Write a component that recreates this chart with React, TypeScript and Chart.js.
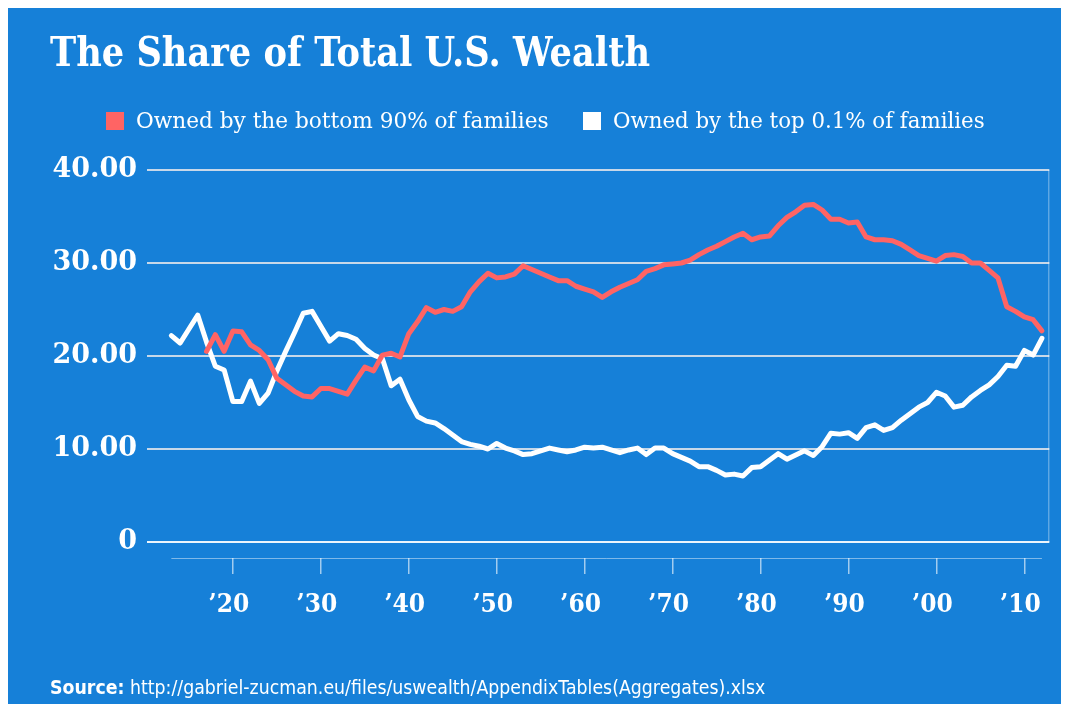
import React, { useEffect, useLayoutEffect, useRef, useState } from "react";
import { Chart, registerables } from "chart.js";

Chart.register(...registerables);

const YEARS = [
  1913, 1914, 1915, 1916, 1917, 1918, 1919, 1920, 1921, 1922,
  1923, 1924, 1925, 1926, 1927, 1928, 1929, 1930, 1931, 1932,
  1933, 1934, 1935, 1936, 1937, 1938, 1939, 1940, 1941, 1942,
  1943, 1944, 1945, 1946, 1947, 1948, 1949, 1950, 1951, 1952,
  1953, 1954, 1955, 1956, 1957, 1958, 1959, 1960, 1961, 1962,
  1963, 1964, 1965, 1966, 1967, 1968, 1969, 1970, 1971, 1972,
  1973, 1974, 1975, 1976, 1977, 1978, 1979, 1980, 1981, 1982,
  1983, 1984, 1985, 1986, 1987, 1988, 1989, 1990, 1991, 1992,
  1993, 1994, 1995, 1996, 1997, 1998, 1999, 2000, 2001, 2002,
  2003, 2004, 2005, 2006, 2007, 2008, 2009, 2010, 2011, 2012,
];

const BOTTOM_90 = [
  null, null, null, null, 20.5, 22.3, 20.5, 22.7, 22.6, 21.2,
  20.6, 19.6, 17.6, 16.9, 16.2, 15.7, 15.6, 16.5, 16.5, 16.2,
  15.9, 17.4, 18.8, 18.4, 20.1, 20.3, 19.9, 22.4, 23.7, 25.2,
  24.7, 25.0, 24.8, 25.3, 26.9, 28.0, 28.9, 28.4, 28.5, 28.8,
  29.7, 29.3, 28.9, 28.5, 28.1, 28.1, 27.5, 27.2, 26.9, 26.3,
  26.9, 27.4, 27.8, 28.2, 29.1, 29.4, 29.8, 29.9, 30.0, 30.3,
  30.9, 31.4, 31.8, 32.3, 32.8, 33.2, 32.5, 32.8, 32.9, 34.0,
  34.9, 35.5, 36.2, 36.3, 35.7, 34.7, 34.7, 34.3, 34.4, 32.8,
  32.5, 32.5, 32.4, 32.0, 31.4, 30.8, 30.5, 30.2, 30.8, 30.9,
  30.7, 30.0, 30.0, 29.2, 28.4, 25.3, 24.8, 24.2, 23.9, 22.7,
];

const TOP_0_1 = [
  22.2, 21.4, 22.9, 24.4, 21.5, 18.9, 18.5, 15.1, 15.1, 17.3,
  14.9, 16.0, 18.4, 20.5, 22.5, 24.6, 24.8, 23.2, 21.6, 22.4,
  22.2, 21.8, 20.8, 20.1, 19.7, 16.8, 17.5, 15.3, 13.5, 13.0,
  12.8, 12.2, 11.5, 10.8, 10.5, 10.3, 10.0, 10.6, 10.1, 9.8,
  9.4, 9.5, 9.8, 10.1, 9.9, 9.7, 9.9, 10.2, 10.1, 10.2,
  9.9, 9.6, 9.9, 10.1, 9.4, 10.1, 10.1, 9.5, 9.1, 8.7,
  8.1, 8.1, 7.7, 7.2, 7.3, 7.1, 8.0, 8.1, 8.8, 9.5,
  8.9, 9.35, 9.8, 9.3, 10.25, 11.7, 11.6, 11.75, 11.15, 12.3,
  12.6, 12.0, 12.3, 13.1, 13.8, 14.5, 15.0, 16.1, 15.7, 14.5,
  14.7, 15.6, 16.3, 16.9, 17.8, 19.0, 18.9, 20.6, 20.1, 21.9,
];

const Y_TICKS = [0, 10, 20, 30, 40];
const X_TICKS = [1920, 1930, 1940, 1950, 1960, 1970, 1980, 1990, 2000, 2010];
const X_TICK_LABELS = ["’20", "’30", "’40", "’50", "’60", "’70", "’80", "’90", "’00", "’10"];
const SERIES_LABELS = [
  "Owned by the bottom 90% of families",
  "Owned by the top 0.1% of families",
];
const TITLE = "The Share of Total U.S. Wealth";
const SOURCE_LABEL = "Source:";
const SOURCE_URL = " http://gabriel-zucman.eu/files/uswealth/AppendixTables(Aggregates).xlsx";

const BLUE = "#1680d8";
const RED = "#ff6464";
const WHITE = "#ffffff";

function FitText({ width, style, children }: any) {
  const ref = useRef<HTMLSpanElement>(null);
  const [s, setS] = useState(1);
  useLayoutEffect(() => {
    if (ref.current) {
      const w = ref.current.offsetWidth;
      if (w > 0) setS(width / w);
    }
  }, [width]);
  return (
    <span
      ref={ref}
      style={{
        display: "inline-block",
        whiteSpace: "nowrap",
        transformOrigin: "left top",
        transform: `scaleX(${s})`,
        ...style,
      }}
    >
      {children}
    </span>
  );
}

const axisDecor = {
  id: "axisDecor",
  beforeDatasetsDraw(chart: any) {
    const { ctx, chartArea, scales } = chart;
    const x = scales.x;
    const y = scales.y;
    ctx.save();
    ctx.strokeStyle = "rgba(255,255,255,0.45)";
    ctx.lineWidth = 1;
    ctx.beginPath();
    ctx.moveTo(x.getPixelForValue(YEARS[0]), chartArea.bottom + 0.5);
    ctx.lineTo(x.getPixelForValue(YEARS[YEARS.length - 1]), chartArea.bottom + 0.5);
    ctx.stroke();
    ctx.beginPath();
    ctx.moveTo(chartArea.right - 0.5, y.getPixelForValue(Y_TICKS[Y_TICKS.length - 1]));
    ctx.lineTo(chartArea.right - 0.5, y.getPixelForValue(0));
    ctx.stroke();
    ctx.restore();
  },
};

function WealthChart() {
  const canvasRef = useRef<HTMLCanvasElement>(null);
  useEffect(() => {
    if (!canvasRef.current) return;
    const red = YEARS.map((yr, i) => ({ x: yr, y: BOTTOM_90[i] }));
    const white = YEARS.map((yr, i) => ({ x: yr, y: TOP_0_1[i] }));
    const chart = new Chart(canvasRef.current, {
      type: "line",
      data: {
        datasets: [
          {
            label: SERIES_LABELS[0],
            data: red as any,
            borderColor: RED,
            backgroundColor: RED,
            borderWidth: 5,
            pointRadius: 0,
            tension: 0,
            borderJoinStyle: "round",
            borderCapStyle: "round",
            spanGaps: false,
          },
          {
            label: SERIES_LABELS[1],
            data: white as any,
            borderColor: WHITE,
            backgroundColor: WHITE,
            borderWidth: 5,
            pointRadius: 0,
            tension: 0,
            borderJoinStyle: "round",
            borderCapStyle: "round",
          },
        ],
      },
      options: {
        animation: false,
        responsive: false,
        maintainAspectRatio: false,
        layout: { padding: { left: 0, right: 11, top: 164, bottom: 66 } },
        plugins: {
          legend: { display: false },
          tooltip: { enabled: false },
          title: { display: false },
        },
        scales: {
          x: {
            type: "linear",
            min: 1910.23,
            max: 2012.84,
            afterBuildTicks: (scale: any) => {
              scale.ticks = X_TICKS.map((v) => ({ value: v }));
            },
            afterFit: (scale: any) => {
              scale.height = 80;
            },
            border: { display: false },
            grid: {
              drawOnChartArea: false,
              drawTicks: true,
              tickLength: 16,
              color: "rgba(255,255,255,0.6)",
              lineWidth: 1.5,
            },
            ticks: {
              autoSkip: false,
              maxRotation: 0,
              minRotation: 0,
              padding: 16,
              labelOffset: -4,
              color: WHITE,
              font: { family: "'DejaVu Serif Condensed', 'DejaVu Serif'", size: 26, weight: "bold" },
              callback: (v: any) => X_TICK_LABELS[X_TICKS.indexOf(Number(v))] ?? "",
            },
          },
          y: {
            type: "linear",
            min: -1.72,
            max: 40,
            afterBuildTicks: (scale: any) => {
              scale.ticks = Y_TICKS.map((v) => ({ value: v }));
            },
            afterFit: (scale: any) => {
              scale.width = 139;
            },
            border: { display: false },
            grid: {
              drawTicks: false,
              lineWidth: 2,
              color: (c: any) => (c.tick && c.tick.value === 0 ? "rgba(255,255,255,0.92)" : "rgba(230,232,236,0.85)"),
            },
            ticks: {
              padding: 10,
              color: WHITE,
              font: { family: "'DejaVu Serif'", size: 27, weight: "bold" },
              callback: (v: any) => (Number(v) === 0 ? "0" : Number(v).toFixed(2)),
            },
          },
        },
      },
      plugins: [axisDecor],
    });
    return () => chart.destroy();
  }, []);
  return (
    <canvas
      ref={canvasRef}
      width={1053}
      height={698}
      style={{ position: "absolute", left: 0, top: 0, width: 1053, height: 698 }}
    />
  );
}

export default function App() {
  return (
    <div
      style={{
        position: "relative",
        width: 1053,
        height: 698,
        marginTop: -2,
        background: BLUE,
        overflow: "hidden",
        color: WHITE,
      }}
    >
      <WealthChart />
      <div style={{ position: "absolute", left: 42, top: 22, lineHeight: "48px" }}>
        <FitText width={600} style={{ fontFamily: "'DejaVu Serif'", fontWeight: "bold", fontSize: 41 }}>
          {TITLE}
        </FitText>
      </div>
      <div style={{ position: "absolute", left: 98, top: 106, width: 18, height: 18, background: RED }} />
      <div style={{ position: "absolute", left: 128, top: 101, lineHeight: "28px" }}>
        <FitText width={413} style={{ fontFamily: "'DejaVu Serif'", fontSize: 22 }}>
          {SERIES_LABELS[0]}
        </FitText>
      </div>
      <div style={{ position: "absolute", left: 575, top: 106, width: 18, height: 18, background: WHITE }} />
      <div style={{ position: "absolute", left: 605, top: 101, lineHeight: "28px" }}>
        <FitText width={372} style={{ fontFamily: "'DejaVu Serif'", fontSize: 22 }}>
          {SERIES_LABELS[1]}
        </FitText>
      </div>
      <div style={{ position: "absolute", left: 42, top: 670, lineHeight: "22px" }}>
        <FitText width={715} style={{ fontFamily: "'DejaVu Sans'", fontSize: 19 }}>
          <b>{SOURCE_LABEL}</b>
          <span style={{ fontWeight: "normal" }}>{SOURCE_URL}</span>
        </FitText>
      </div>
    </div>
  );
}
